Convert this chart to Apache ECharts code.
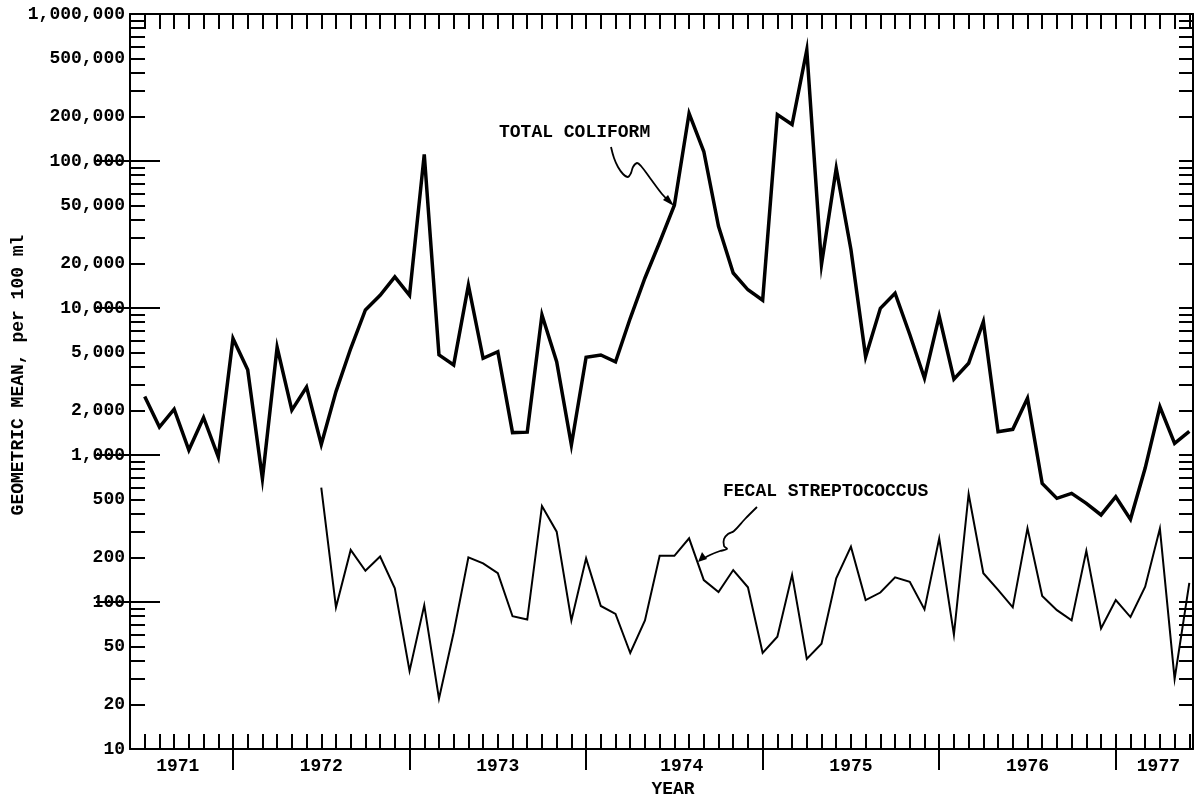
<!DOCTYPE html>
<html>
<head>
<meta charset="utf-8">
<script src="https://cdn.jsdelivr.net/npm/echarts@6.0.0/dist/echarts.min.js"></script>
<style>
html,body{margin:0;padding:0;background:#fff;}
#chart{width:1194px;height:800px;}
</style>
</head>
<body>
<div id="chart"></div>
<script>
// ---- Data (monthly, July 1971 .. June 1977) ----
const monthNames = ['Jan','Feb','Mar','Apr','May','Jun','Jul','Aug','Sep','Oct','Nov','Dec'];
const months = [];
for (let y = 1971, m = 6; months.length < 72; m++) {
  if (m === 12) { m = 0; y++; }
  months.push(monthNames[m] + ' ' + y);
}

const totalColiform = [
  2500, 1550, 2050, 1080, 1800, 970,
  6200, 3800, 690, 5400, 2020, 2900, 1180, 2700, 5300, 9700, 12200, 16300,
  12200, 111000, 4800, 4100, 14300, 4550, 5040, 1420, 1430, 8960, 4310, 1170,
  4620, 4790, 4310, 8510, 16000, 28000, 50000, 211000, 116000, 36000, 17300, 13300,
  11300, 207000, 177000, 569000, 19800, 89000, 25000, 4660, 9950, 12600, 6600, 3330,
  8800, 3280, 4210, 8070, 1440, 1495, 2430, 640, 507, 548, 469, 391,
  520, 365, 815, 2130, 1200, 1450
];

const fecalStrep = [
  null, null, null, null, null, null,
  null, null, null, null, null, null, 600, 92, 226, 163, 204, 124,
  34, 95, 22, 62, 201, 183, 157, 80, 76, 450, 301, 75,
  198, 94, 83, 45, 75, 206, 206, 271, 141, 117, 165, 126,
  45, 58, 153, 41, 52, 145, 238, 103, 116, 147, 137, 89,
  271, 60, 543, 157, 121, 92, 317, 110, 88, 75, 223, 66,
  103, 79, 127, 316, 30, 135
];

// ---- Axis ticks / labels ----
const yLabelValues = [10, 20, 50, 100, 200, 500, 1000, 2000, 5000, 10000, 20000, 50000, 100000, 200000, 500000, 1000000];
const yLabelTexts  = ['10', '20', '50', '100', '200', '500', '1,000', '2,000', '5,000', '10,000', '20,000', '50,000', '100,000', '200,000', '500,000', '1,000,000'];
const yMajorTicks = [100, 1000, 10000, 100000];
const yMinorTicks = [];
[10, 100, 1000, 10000, 100000].forEach(d => { for (let k = 1; k <= 9; k++) yMinorTicks.push(d * k); });
yMinorTicks.push(1000000);

const yearBoundaries = [7, 19, 31, 43, 55, 67];
const yearLabelPositions = [3.25, 13, 25, 37.5, 49, 61, 69.9];
const yearLabels = ['1971', '1972', '1973', '1974', '1975', '1976', '1977'];

const X_MAX = 72.25;
const FONT = '"Liberation Mono", "DejaVu Sans Mono", monospace';
const BLACK = '#000';

const coliformData = totalColiform.map((v, i) => [i + 1, v]);
const strepData = fecalStrep.map((v, i) => [i + 1, v]);

function pick(values, texts, v) {
  const k = values.findIndex(x => Math.abs(x - v) <= Math.abs(x) * 1e-6 + 1e-9);
  return k >= 0 ? texts[k] : '';
}

const lineSt = { color: BLACK, width: 2 };

const chart = echarts.init(document.getElementById('chart'), null, { renderer: 'canvas' });
chart.setOption({
  animation: false,
  backgroundColor: '#fff',
  grid: { left: 130, right: 1, top: 14, bottom: 51, containLabel: false, outerBoundsMode: 'none' },
  xAxis: [
    { // bottom: month ticks
      type: 'value', position: 'bottom', min: 0, max: X_MAX, interval: 1,
      axisLine: { show: true, onZero: false, lineStyle: lineSt },
      axisTick: { show: true, inside: true, length: 15, lineStyle: lineSt },
      axisLabel: { show: false },
      splitLine: { show: false }
    },
    { // bottom: year boundaries and labels
      type: 'value', position: 'bottom', min: 0, max: X_MAX,
      axisLine: { show: false, onZero: false },
      axisTick: { show: true, inside: false, length: 21, customValues: yearBoundaries, lineStyle: lineSt },
      axisLabel: {
        show: true, customValues: yearLabelPositions, margin: 8,
        formatter: v => pick(yearLabelPositions, yearLabels, v),
        color: BLACK, fontFamily: FONT, fontSize: 18, fontWeight: 'bold'
      },
      splitLine: { show: false },
      name: 'YEAR', nameLocation: 'middle', nameGap: 31, nameMoveOverlap: false,
      nameTextStyle: { color: BLACK, fontFamily: FONT, fontSize: 18, fontWeight: 'bold', padding: [0, 0, 0, 23] }
    },
    { // top: month ticks
      type: 'value', position: 'top', min: 0, max: X_MAX, interval: 1,
      axisLine: { show: true, onZero: false, lineStyle: lineSt },
      axisTick: { show: true, inside: true, length: 15, lineStyle: lineSt },
      axisLabel: { show: false },
      splitLine: { show: false }
    }
  ],
  yAxis: [
    { // left: labels + minor ticks
      type: 'log', logBase: 10, position: 'left', min: 10, max: 1000000,
      axisLine: { show: true, onZero: false, lineStyle: lineSt },
      axisTick: { show: true, inside: true, length: 15, customValues: yMinorTicks, lineStyle: lineSt },
      axisLabel: {
        show: true, customValues: yLabelValues, margin: 5,
        formatter: v => pick(yLabelValues, yLabelTexts, v),
        color: BLACK, fontFamily: FONT, fontSize: 18, fontWeight: 'bold'
      },
      splitLine: { show: false },
      name: 'GEOMETRIC MEAN, per 100 ml', nameLocation: 'middle', nameGap: 103, nameRotate: 90, nameMoveOverlap: false,
      nameTextStyle: { color: BLACK, fontFamily: FONT, fontSize: 18, fontWeight: 'bold', padding: [0, 0, 0, 13] }
    },
    { // left: major ticks
      type: 'log', logBase: 10, position: 'left', min: 10, max: 1000000,
      axisLine: { show: false },
      axisTick: { show: true, inside: true, length: 30, customValues: yMajorTicks, lineStyle: lineSt },
      axisLabel: { show: false },
      splitLine: { show: false }
    },
    { // right: minor ticks
      type: 'log', logBase: 10, position: 'right', min: 10, max: 1000000,
      axisLine: { show: true, onZero: false, lineStyle: lineSt },
      axisTick: { show: true, inside: true, length: 14, customValues: yMinorTicks, lineStyle: lineSt },
      axisLabel: { show: false },
      splitLine: { show: false }
    },
    { // right: major ticks
      type: 'log', logBase: 10, position: 'right', min: 10, max: 1000000,
      axisLine: { show: false },
      axisTick: { show: true, inside: true, length: 34, customValues: yMajorTicks, lineStyle: lineSt },
      axisLabel: { show: false },
      splitLine: { show: false }
    }
  ],
  series: [
    {
      name: 'TOTAL COLIFORM', type: 'line', xAxisIndex: 0, yAxisIndex: 0,
      data: coliformData, showSymbol: false, symbol: 'none', clip: true,
      lineStyle: { color: BLACK, width: 3.5, join: 'miter' }
    },
    {
      name: 'FECAL STREPTOCOCCUS', type: 'line', xAxisIndex: 0, yAxisIndex: 0,
      data: strepData, showSymbol: false, symbol: 'none', clip: true, connectNulls: false,
      lineStyle: { color: BLACK, width: 2, join: 'miter' }
    }
  ],
  graphic: [
    { type: 'text', left: 499, top: 123, style: { text: 'TOTAL COLIFORM', fill: BLACK, font: 'bold 18px ' + FONT } },
    { type: 'polyline', shape: { points: [[611,147],[614,158],[618,167],[623,174],[628,177],[631,173],[633,167],[637,163],[641,166],[650,178],[662,194],[669,201]], smooth: 0.35 },
      style: { stroke: BLACK, lineWidth: 1.8, fill: null } },
    { type: 'polygon', shape: { points: [[674,206],[663,200],[668,195]] }, style: { fill: BLACK } },
    { type: 'text', left: 723, top: 482, style: { text: 'FECAL STREPTOCOCCUS', fill: BLACK, font: 'bold 18px ' + FONT } },
    { type: 'polyline', shape: { points: [[757,507],[745,519],[734,531],[728,534],[724,539],[724,546],[727,549],[720,551],[710,555],[703,559]], smooth: 0.35 },
      style: { stroke: BLACK, lineWidth: 1.8, fill: null } },
    { type: 'polygon', shape: { points: [[698,562],[702,552],[707,559]] }, style: { fill: BLACK } }
  ]
});
</script>
</body>
</html>
